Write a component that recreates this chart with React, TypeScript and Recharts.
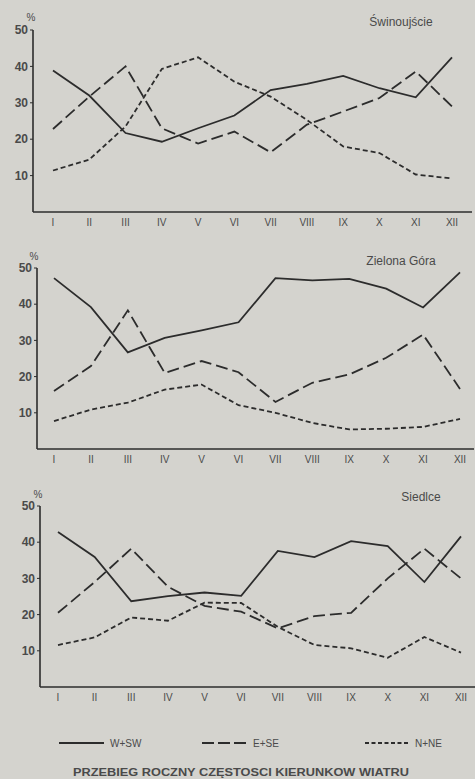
import React from 'react';
import { LineChart, Line, XAxis, YAxis } from 'recharts';

const months = ['I', 'II', 'III', 'IV', 'V', 'VI', 'VII', 'VIII', 'IX', 'X', 'XI', 'XII'];
const yTicks = [10, 20, 30, 40, 50];

const swinWSW = [38.9, 32, 21.7, 19.3, 23, 26.5, 33.5, 35.2, 37.4, 34, 31.5, 42.5];
const swinESE = [22.8, 31.7, 40, 23, 18.8, 22.1, 16.4, 24, 27.6, 31.3, 38.6, 29];
const swinNNE = [11.4, 14.4, 23.5, 39.3, 42.5, 35.8, 31.7, 25.3, 18, 16.2, 10.3, 9.2];

const zgWSW = [47.2, 39.2, 26.7, 30.7, 32.8, 35, 47.2, 46.6, 47, 44.3, 39.1, 48.8];
const zgESE = [16, 22.9, 38.3, 21, 24.3, 21.2, 13, 18.3, 20.6, 25.2, 31.6, 16.6];
const zgNNE = [7.7, 10.9, 12.8, 16.4, 17.8, 12.1, 10, 7.2, 5.4, 5.6, 6.1, 8.3];

const sieWSW = [42.8, 35.9, 23.7, 25.1, 26.1, 25.2, 37.6, 35.9, 40.3, 38.9, 29, 41.6];
const sieESE = [20.5, 29, 38.2, 27.7, 22.4, 20.8, 16.2, 19.6, 20.5, 30, 38.2, 30];
const sieNNE = [11.6, 13.7, 19.2, 18.3, 23.3, 23.2, 16.6, 11.6, 10.7, 8.1, 13.8, 9.5];

const seriesNames = ['W+SW', 'E+SE', 'N+NE'];

const build = (a: number[], b: number[], c: number[]) =>
  months.map((m, i) => ({ m, wsw: a[i], ese: b[i], nne: c[i] }));

const BG = '#d4d3ce';
const INK = '#2c2c2c';
const TXT = '#4a4a4a';
const FONT = '"Liberation Sans", Arial, sans-serif';

type PanelProps = {
  top: number;
  height: number;
  yWidth: number;
  right: number;
  padL: number;
  padR: number;
  data: any[];
};

const Panel = ({ top, height, yWidth, right, padL, padR, data }: PanelProps) => (
  <div style={{ position: 'absolute', left: 0, top, width: 475, height }}>
    <LineChart width={475} height={height} data={data} margin={{ top: 30, right, bottom: 0, left: 0 }}>
      <XAxis
        dataKey="m"
        padding={{ left: padL, right: padR }}
        axisLine={{ stroke: INK, strokeWidth: 1.6 }}
        tickLine={false}
        tickSize={4}
        tickMargin={3}
        height={23}
        interval={0}
        tick={{ fill: TXT, fontSize: 10, fontFamily: FONT }}
      />
      <YAxis
        width={yWidth}
        domain={[0, 50]}
        ticks={yTicks}
        axisLine={{ stroke: INK, strokeWidth: 1.6 }}
        tickLine={{ stroke: INK }}
        tickSize={3}
        tickMargin={2}
        tick={{ fill: TXT, fontSize: 12, fontFamily: FONT, fontWeight: 600 }}
      />
      <Line dataKey="wsw" name={seriesNames[0]} stroke={INK} strokeWidth={1.8} dot={false} isAnimationActive={false} />
      <Line dataKey="ese" name={seriesNames[1]} stroke={INK} strokeWidth={1.8} strokeDasharray="12 5" dot={false} isAnimationActive={false} />
      <Line dataKey="nne" name={seriesNames[2]} stroke={INK} strokeWidth={1.8} strokeDasharray="5 3" dot={false} isAnimationActive={false} />
    </LineChart>
  </div>
);

export default function App() {
  return (
    <div style={{ position: 'absolute', left: 0, top: 0, width: 475, height: 779, background: BG, overflow: 'hidden', fontFamily: FONT }}>
      <Panel top={0} height={235} yWidth={33} right={3} padL={20} padR={20} data={build(swinWSW, swinESE, swinNNE)} />
      <Panel top={238} height={234} yWidth={37} right={1} padL={17} padR={14} data={build(zgWSW, zgESE, zgNNE)} />
      <Panel top={476} height={234} yWidth={40} right={0} padL={18} padR={14} data={build(sieWSW, sieESE, sieNNE)} />
      <svg width={475} height={779} style={{ position: 'absolute', left: 0, top: 0, pointerEvents: 'none' }}>
        <g fill={TXT} fontFamily={FONT}>
          <text x={401} y={26} fontSize={12} textAnchor="middle">Świnoujście</text>
          <text x={401} y={265} fontSize={12} textAnchor="middle">Zielona Góra</text>
          <text x={421} y={501} fontSize={12} textAnchor="middle">Siedlce</text>
          <text x={31} y={21} fontSize={10} textAnchor="middle">%</text>
          <text x={34} y={260} fontSize={10} textAnchor="middle">%</text>
          <text x={38} y={498} fontSize={10} textAnchor="middle">%</text>
        </g>
        <g stroke={INK} strokeWidth={1.8}>
          <line x1={59} y1={743} x2={104} y2={743} />
          <line x1={202} y1={743} x2={246} y2={743} strokeDasharray="12 4" />
          <line x1={365} y1={743} x2={410} y2={743} strokeDasharray="4 2.5" />
        </g>
        <g fill={TXT} fontFamily={FONT} fontSize={10}>
          <text x={110} y={747}>{seriesNames[0]}</text>
          <text x={253} y={747}>{seriesNames[1]}</text>
          <text x={415} y={747}>{seriesNames[2]}</text>
        </g>
        <text x={241} y={776} textAnchor="middle" fill={TXT} fontFamily={FONT} fontSize={11} fontWeight="bold" textLength={336} lengthAdjust="spacingAndGlyphs">
          PRZEBIEG ROCZNY CZĘSTOSCI KIERUNKOW WIATRU
        </text>
      </svg>
    </div>
  );
}
